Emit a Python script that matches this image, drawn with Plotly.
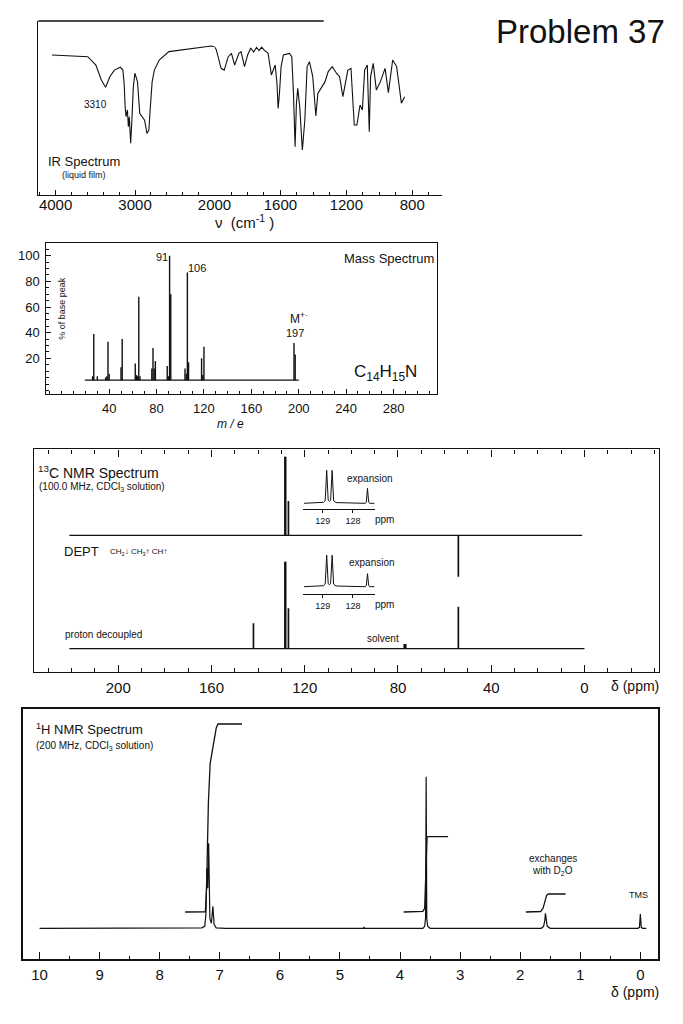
import plotly.graph_objects as go

W, H = 683, 1024
FONT = "Liberation Sans, Arial, Helvetica, sans-serif"
INK = "#111111"

# ======================= DATA =======================
# --- IR spectrum (wavenumber in cm-1, transmittance %) ---
ir_wavenumber = [4045, 3595, 3493, 3423, 3370, 3317, 3260, 3186, 3153, 3137, 3125, 3113, 3096,
                 3084, 3072, 3055, 3039, 3022, 3002, 2969, 2941, 2908, 2880, 2850, 2826, 2810,
                 2785, 2757, 2696, 2573, 2286, 2041, 2000, 1990, 1960, 1941, 1917, 1897, 1878,
                 1852, 1839, 1818, 1799, 1780, 1763, 1745, 1730, 1714, 1700, 1675, 1655, 1641,
                 1632, 1621, 1614, 1606, 1596, 1582, 1546, 1531, 1521, 1511, 1503, 1495, 1483,
                 1467, 1452, 1438, 1424, 1404, 1393, 1385, 1373, 1349, 1330, 1310, 1286, 1260,
                 1241, 1221, 1207, 1191, 1172, 1152, 1136, 1117, 1103, 1089, 1073, 1061, 1053,
                 1037, 1018, 994, 965, 945, 919, 895, 866, 846]
ir_transmittance = [80.5, 79.5, 74.7, 66, 61.9, 68, 71.8, 73.4, 71.8, 64, 50.8, 45, 48.9,
                    39.3, 45, 29.7, 43.7, 62, 70, 65, 47, 45, 43, 35.4, 37.4, 48.9,
                    65, 71.8, 77.6, 82.4, 84.3, 85.6, 85.2, 83.7, 72.8, 71.8, 79.5, 81.4, 74.7,
                    81.4, 82.4, 73.8, 80.5, 84.5, 82.2, 84.8, 83.0, 85.0, 83.4, 81.4, 69, 72.8,
                    74.7, 64, 49.8, 58.4, 73.8, 80.5, 81.4, 79.5, 58.4, 27.8, 52.7, 61.3, 50.8,
                    25.9, 43, 73.8, 76.6, 68, 56.5, 45.4, 58.4, 62.3, 65, 70.9, 73.8, 70,
                    68, 56.5, 64, 71.8, 72.8, 40.2, 40.2, 51.7, 48.9, 71.8, 74.7, 36.4, 68,
                    75.7, 60.3, 65, 72.8, 58.8, 77.6, 73.8, 52.7, 56.5]
ir_ticks_high = [4000, 3000, 2000]
ir_ticks_low = [1600, 1200, 800]

# --- Mass spectrum (m/e, % of base peak) ---
ms_mz = [26, 27, 30, 37, 38, 39, 40, 50, 51, 62, 63, 64, 65, 66, 76, 77, 78, 79,
         89, 90, 91, 92, 104, 105, 106, 107, 118, 119, 120, 196, 197]
ms_intensity = [6, 39, 6, 5, 6, 33, 8, 13, 35, 16, 7, 6, 68, 6, 12, 28, 12, 18,
                14, 6, 100, 70, 12, 8, 87, 17, 20, 7, 29, 32, 23]
ms_baseline = 3
ms_baseline_span = [19.5, 200]
ms_xticks = [40, 80, 120, 160, 200, 240, 280]
ms_yticks = [20, 40, 60, 80, 100]

# --- 13C NMR: DEPT trace and proton-decoupled trace (ppm, relative height) ---
c13_dept_ppm = [128.5, 128.2, 127.0, 54.1]
c13_dept_int = [78.6, 78.6, 34.3, -41.4]
c13_bb_ppm = [142.0, 128.5, 128.2, 127.0, 77.3, 77.0, 76.7, 54.1]
c13_bb_int = [25.4, 87, 87, 40.4, 4.7, 4.7, 4.7, 42]
c13_dept_span = [221, 1]
c13_bb_span = [221, 0]
c13_xticks = [200, 160, 120, 80, 40, 0]

# expansions (ppm, height)
c13_exp1_ppm = [129.62, 128.97, 128.92, 128.87, 128.82, 128.78, 128.74, 128.69, 128.64,
                128.56, 127.60, 127.56, 127.52, 127.48, 127.44, 127.29]
c13_exp1_int = [0, 1, 2.5, 33, 3, 2, 3, 33, 2.5, 0.7, 0, 1, 15, 1, 0, 0]
c13_exp2_ppm = [129.62, 128.97, 128.92, 128.87, 128.82, 128.78, 128.74, 128.69, 128.64,
                128.56, 127.60, 127.56, 127.52, 127.48, 127.44, 127.29]
c13_exp2_int = [0, 1, 2.5, 31.5, 3, 2, 3, 31.5, 2.5, 0.7, 0, 1, 13, 1, 0, 0]
c13_exp_ticks = [129, 128]

# --- 1H NMR (ppm, height) ---
h1_ppm = [10.0, 7.45, 7.30, 7.25, 7.23, 7.215, 7.20, 7.185, 7.165, 7.14, 7.115, 7.095, 7.06,
          6.9, 4.61, 4.60, 4.59, 3.62, 3.59, 3.575, 3.565, 3.555, 3.54, 3.50, 1.65, 1.61,
          1.59, 1.58, 1.57, 1.55, 1.50, 0.04, 0.015, 0.0, -0.015, -0.04, -0.1]
h1_int = [0, 0, 0.5, 2, 15, 60, 40, 85, 10, 5, 22, 4, 0.5,
          0, 0, 1.2, 0, 0, 2, 10, 151.6, 10, 2, 0, 0, 2,
          8, 15, 8, 2, 0, 0, 1, 14.3, 1, 0, 0]
h1_integral_arom_ppm = [7.576, 7.24, 7.22, 7.19, 7.16, 7.13, 7.10, 7.06, 7.03, 6.63]
h1_integral_arom = [16.3, 16.5, 40, 125, 165, 176, 190, 200, 204.3, 204.3]
h1_integral_ch2_ppm = [3.94, 3.62, 3.59, 3.575, 3.56, 3.55, 3.20]
h1_integral_ch2 = [16.3, 17, 20, 50, 88, 91.7, 91.7]
h1_integral_nh_ppm = [1.906, 1.66, 1.62, 1.59, 1.56, 1.53, 1.245]
h1_integral_nh = [16.3, 16.8, 20, 27, 33, 34.3, 34.3]
h1_xticks = [0, 1, 2, 3, 4, 5, 6, 7, 8, 9, 10]


# ======================= HELPERS =======================
def fx(x):
    return x / W


def fy(y):
    return 1 - y / H


def dom_x(a, b):
    return [fx(a), fx(b)]


def dom_y(top, bottom):
    return [fy(bottom), fy(top)]


def px_range(base, top, bottom):
    # 1 data unit == 1 pixel, baseline 0 at pixel row `base`
    return [-(bottom - base), base - top]


def sticks(xs, hs, base=0.0):
    X, Y = [], []
    for x, h in zip(xs, hs):
        X += [x, x, None]
        Y += [base, h, None]
    return X, Y


def line_trace(x, y, xa, ya, width=1.2):
    return go.Scatter(x=x, y=y, xaxis=xa, yaxis=ya, mode="lines",
                      line=dict(color=INK, width=width), hoverinfo="skip",
                      connectgaps=False)


fig = go.Figure()

# ---------------- IR ----------------
hi = [(w, t) for w, t in zip(ir_wavenumber, ir_transmittance) if w >= 2000]
lo = [(w, t) for w, t in zip(ir_wavenumber, ir_transmittance) if w <= 2000]
fig.add_trace(line_trace([p[0] for p in hi], [p[1] for p in hi], "x", "y", 1.1))
fig.add_trace(line_trace([p[0] for p in lo], [p[1] for p in lo], "x8", "y", 1.1))

# ---------------- MS ----------------
sx, sy = sticks(ms_mz, ms_intensity, ms_baseline)
fig.add_trace(line_trace(sx, sy, "x2", "y2", 1.4))
fig.add_trace(line_trace(ms_baseline_span, [ms_baseline, ms_baseline], "x2", "y2", 1.2))

# ---------------- 13C ----------------
dx, dy = sticks(c13_dept_ppm, c13_dept_int)
fig.add_trace(line_trace(dx, dy, "x3", "y3", 1.7))
fig.add_trace(line_trace(c13_dept_span, [0, 0], "x3", "y3", 1.2))
bx, by = sticks(c13_bb_ppm, c13_bb_int)
fig.add_trace(line_trace(bx, by, "x3", "y4", 1.7))
fig.add_trace(line_trace(c13_bb_span, [0, 0], "x3", "y4", 1.2))
fig.add_trace(line_trace(c13_exp1_ppm, c13_exp1_int, "x5", "y5", 1.0))
fig.add_trace(line_trace(c13_exp2_ppm, c13_exp2_int, "x6", "y6", 1.0))

# ---------------- 1H ----------------
fig.add_trace(line_trace(h1_ppm, h1_int, "x7", "y7", 1.2))
fig.add_trace(line_trace(h1_integral_arom_ppm, h1_integral_arom, "x7", "y7", 1.3))
fig.add_trace(line_trace(h1_integral_ch2_ppm, h1_integral_ch2, "x7", "y7", 1.3))
fig.add_trace(line_trace(h1_integral_nh_ppm, h1_integral_nh, "x7", "y7", 1.3))

# ======================= AXES =======================
base_ax = dict(showgrid=False, zeroline=False, linecolor=INK, tickcolor=INK,
               tickfont=dict(family=FONT, color=INK))


def ax(**kw):
    d = dict(base_ax)
    tf = dict(base_ax["tickfont"])
    if "tickfont" in kw:
        tf.update(kw.pop("tickfont"))
    d["tickfont"] = tf
    d.update(kw)
    return d


hidden = dict(showgrid=False, zeroline=False, showline=False, ticks="",
              showticklabels=False)

layout = dict(
    width=W, height=H, margin=dict(l=0, r=0, t=0, b=0),
    paper_bgcolor="white", plot_bgcolor="rgba(0,0,0,0)", showlegend=False,
    font=dict(family=FONT, color=INK),
    # IR: two linear segments (4000-2000 and 2000-600 at double scale)
    xaxis=ax(domain=dom_x(39.3, 220), range=[4217, 2000], anchor="y", showline=True,
             linewidth=1.4, ticks="inside", ticklen=5, tickwidth=1.2,
             tickmode="array", tickvals=ir_ticks_high,
             ticktext=[str(v) for v in ir_ticks_high], tickfont=dict(size=15),
             ticklabelstandoff=-4,
             minor=dict(tickmode="array", tickvals=list(range(2000, 4201, 200)),
                        ticks="inside", ticklen=3, tickcolor=INK)),
    xaxis8=ax(domain=dom_x(220, 453), range=[2000, 621.3], anchor="y", showline=True,
              linewidth=1.4, ticks="inside", ticklen=5, tickwidth=1.2,
              tickmode="array", tickvals=ir_ticks_low,
              ticktext=[str(v) for v in ir_ticks_low], tickfont=dict(size=15),
              ticklabelstandoff=-4,
              minor=dict(tickmode="array", tickvals=list(range(700, 2000, 100)),
                         ticks="inside", ticklen=3, tickcolor=INK)),
    yaxis=ax(domain=dom_y(21, 195), range=[0, 100], anchor="x", showline=True,
             linewidth=1.4, ticks="", showticklabels=False),
    # Mass spectrum
    xaxis2=ax(domain=dom_x(46.7, 448.3), range=[-13.7, 316.8], anchor="y2",
              showline=True, mirror=True, linewidth=1.4, ticks="inside", ticklen=5,
              tickmode="array", tickvals=ms_xticks, tickfont=dict(size=13),
              ticklabelstandoff=2,
              minor=dict(tickmode="linear", tick0=0, dtick=10, ticks="inside",
                         ticklen=3, tickcolor=INK)),
    yaxis2=ax(domain=dom_y(243.3, 394), range=[-7.8, 109.7], anchor="x2",
              showline=True, mirror=True, linewidth=1.4, ticks="inside", ticklen=5,
              tickmode="array", tickvals=ms_yticks, tickfont=dict(size=13),
              ticklabelstandoff=2,
              minor=dict(tickmode="linear", tick0=0, dtick=5, ticks="inside",
                         ticklen=3, tickcolor=INK)),
    # 13C main
    xaxis3=ax(domain=dom_x(35, 676), range=[236.1, -32.05], anchor="y3",
              showline=True, mirror="ticks", linewidth=1.4, ticks="inside", ticklen=7,
              tickwidth=1.2, tickmode="array", tickvals=c13_xticks,
              tickfont=dict(size=15), ticklabelstandoff=2,
              minor=dict(tickmode="linear", tick0=0, dtick=10, ticks="inside",
                         ticklen=4, tickcolor=INK)),
    yaxis3=ax(domain=dom_y(449.3, 671.7), range=px_range(535.3, 449.3, 671.7),
              anchor="x3", showline=True, mirror=True, linewidth=1.4, ticks="",
              showticklabels=False),
    yaxis4=dict(hidden, overlaying="y3", anchor="x3",
                range=px_range(648.7, 449.3, 671.7)),
    # 13C expansions
    xaxis5=ax(domain=dom_x(311, 384.5), range=[129.645, 127.274], anchor="y5",
              showline=True, linewidth=1.0, ticks="outside", ticklen=3,
              tickmode="array", tickvals=c13_exp_ticks, tickfont=dict(size=9),
              ticklabelstandoff=0),
    yaxis5=dict(hidden, domain=dom_y(465, 509.3), anchor="x5",
                range=px_range(503.3, 465, 509.3)),
    xaxis6=ax(domain=dom_x(311, 384.5), range=[129.645, 127.274], anchor="y6",
              showline=True, linewidth=1.0, ticks="outside", ticklen=3,
              tickmode="array", tickvals=c13_exp_ticks, tickfont=dict(size=9),
              ticklabelstandoff=0),
    yaxis6=dict(hidden, domain=dom_y(550, 594), anchor="x6",
                range=px_range(586.7, 550, 594)),
    # 1H
    xaxis7=ax(domain=dom_x(23.3, 675), range=[10.28, -0.297], anchor="y7",
              showline=True, mirror=True, linewidth=1.5, ticks="inside", ticklen=7,
              tickwidth=1.2, tickmode="array", tickvals=h1_xticks,
              tickfont=dict(size=15), ticklabelstandoff=1,
              minor=dict(tickmode="linear", tick0=0, dtick=0.5, ticks="inside",
                         ticklen=3, tickcolor=INK)),
    yaxis7=ax(domain=dom_y(709.3, 959), range=px_range(928.3, 709.3, 959),
              anchor="x7", showline=True, mirror=True, linewidth=1.5, ticks="",
              showticklabels=False),
)
fig.update_layout(**layout)

# IR partial top border
fig.add_shape(type="line", xref="paper", yref="paper", x0=fx(39.3), x1=fx(332),
              y0=fy(21), y1=fy(21), line=dict(color=INK, width=1.4))


# ======================= TEXT =======================
def ann(text, x, y, size, xanchor="center", angle=0, italic=False):
    if italic:
        text = "<i>" + text + "</i>"
    fig.add_annotation(text=text, x=fx(x), y=fy(y), xref="paper", yref="paper",
                       xanchor=xanchor, yanchor="middle", showarrow=False,
                       textangle=angle, borderpad=0,
                       font=dict(family=FONT, size=size, color=INK))


ann("Problem 37", 595, 31.7, 33)

ann("3310", 97.5, 104.3, 10)
ann("IR Spectrum", 48.3, 161.7, 13, "left")
ann("(liquid film)", 63, 175, 9, "left")
ann("ν  (cm<sup>-1</sup> )", 251, 221.5, 15)

ann("91", 165.8, 256.7, 11)
ann("106", 202, 268.3, 11)
ann("Mass Spectrum", 399, 258.3, 13)
ann("M<sup>+·</sup>", 306.7, 318.3, 12)
ann("197", 302.5, 332.7, 11)
ann("C<sub>14</sub>H<sub>15</sub>N", 395, 373.3, 17)
ann("% of base peak", 63.3, 308, 9, angle=-90)
ann("m / e", 236, 424, 12, italic=True)

ann("<sup>13</sup>C NMR Spectrum", 38, 471.7, 14, "left")
ann("(100.0 MHz, CDCl<sub>3</sub> solution)", 39, 487, 10, "left")
ann("DEPT", 65, 551.7, 13, "left")
ann("CH<sub>2</sub>↓ CH<sub>3</sub>↑ CH↑", 111.7, 551.7, 8, "left")
ann("expansion", 379, 478, 10)
ann("ppm", 394, 519, 10)
ann("expansion", 381, 562, 10)
ann("ppm", 394, 604, 10)
ann("proton decoupled", 66, 634, 10, "left")
ann("solvent", 392.5, 638.3, 10)
ann("δ (ppm)", 651, 686, 14)

ann("<sup>1</sup>H NMR Spectrum", 36, 729.3, 13, "left")
ann("(200 MHz, CDCl<sub>3</sub> solution)", 36, 746, 10, "left")
ann("exchanges", 566.7, 858.3, 10)
ann("with D<sub>2</sub>O", 566.7, 870.7, 10)
ann("TMS", 655, 895, 9)
ann("δ (ppm)", 651.7, 992, 14)

fig.write_html("out.html", config={"displayModeBar": False},
               post_script="document.body.style.margin='0px';")
